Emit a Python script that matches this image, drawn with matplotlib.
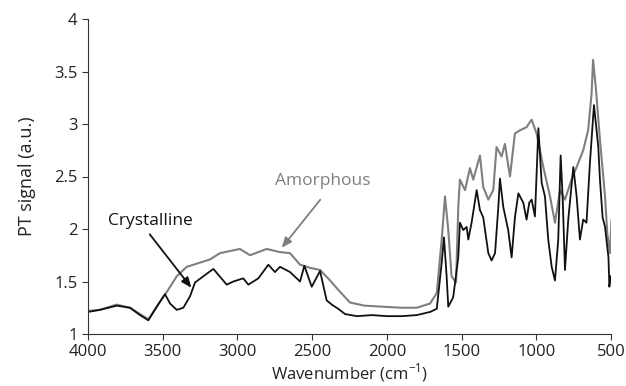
import matplotlib
matplotlib.use('Agg')
import matplotlib.pyplot as plt

plt.rcParams['font.family'] = ['Open Sans', 'DejaVu Sans']
plt.rcParams['mathtext.fontset'] = 'custom'
plt.rcParams['mathtext.rm'] = 'Open Sans'

# crystalline spectrum (black)
wn_c = [4000, 3920, 3808, 3719, 3652, 3596, 3540, 3485, 3451, 3406,
        3362, 3317, 3284, 3228, 3161, 3072, 3027, 2961, 2927, 2860,
        2793, 2749, 2715, 2648, 2581, 2552, 2503, 2447, 2403, 2369,
        2325, 2280, 2200, 2100, 2000, 1900, 1800, 1711, 1666, 1633,
        1618, 1600, 1589, 1556, 1522, 1511, 1489, 1466, 1455, 1433,
        1399, 1377, 1355, 1343, 1321, 1299, 1276, 1254, 1243, 1221,
        1188, 1165, 1143, 1120, 1087, 1065, 1047, 1031, 1009, 986,
        964, 942, 920, 897, 875, 853, 837, 823, 808, 786,
        752, 730, 708, 686, 664, 641, 614, 585, 574, 556,
        540, 517, 511, 502]
pt_c = [1.21, 1.23, 1.27, 1.25, 1.18, 1.13, 1.26, 1.38, 1.29, 1.23,
        1.25, 1.36, 1.49, 1.55, 1.62, 1.47, 1.50, 1.53, 1.47, 1.53,
        1.66, 1.59, 1.64, 1.59, 1.50, 1.65, 1.45, 1.60, 1.32, 1.28,
        1.24, 1.19, 1.17, 1.18, 1.17, 1.17, 1.18, 1.21, 1.24, 1.68,
        1.92, 1.55, 1.26, 1.35, 1.73, 2.06, 1.99, 2.02, 1.90, 2.06,
        2.37, 2.18, 2.11, 1.99, 1.77, 1.70, 1.77, 2.21, 2.48, 2.21,
        1.99, 1.73, 2.11, 2.34, 2.25, 2.09, 2.25, 2.28, 2.12, 2.96,
        2.44, 2.31, 1.90, 1.64, 1.51, 1.90, 2.70, 2.28, 1.61, 2.09,
        2.59, 2.31, 1.90, 2.09, 2.06, 2.63, 3.18, 2.78, 2.47, 2.11,
        2.02, 1.73, 1.45, 1.55]

# amorphous spectrum (grey)
wn_a = [4000, 3920, 3808, 3719, 3652, 3596, 3540, 3473, 3406, 3339,
        3250, 3184, 3117, 2983, 2916, 2804, 2715, 2648, 2581, 2514,
        2447, 2380, 2325, 2247, 2150, 2026, 1900, 1800, 1711, 1666,
        1633, 1611, 1589, 1567, 1537, 1522, 1511, 1477, 1444, 1422,
        1377, 1355, 1321, 1288, 1266, 1232, 1210, 1176, 1143, 1109,
        1065, 1042, 1031, 998, 953, 908, 875, 841, 808, 764,
        730, 686, 653, 630, 620, 600, 574, 540, 525, 507,
        496]
pt_a = [1.22, 1.23, 1.28, 1.25, 1.19, 1.14, 1.26, 1.40, 1.55, 1.64,
        1.68, 1.71, 1.77, 1.81, 1.75, 1.81, 1.78, 1.77, 1.66, 1.63,
        1.61, 1.51, 1.42, 1.30, 1.27, 1.26, 1.25, 1.25, 1.29, 1.39,
        1.90, 2.31, 1.99, 1.55, 1.49, 2.21, 2.47, 2.37, 2.58, 2.47,
        2.70, 2.40, 2.28, 2.37, 2.78, 2.69, 2.81, 2.50, 2.91, 2.94,
        2.97, 3.02, 3.04, 2.91, 2.59, 2.31, 2.06, 2.37, 2.28, 2.47,
        2.59, 2.75, 2.94, 3.29, 3.61, 3.32, 2.85, 2.31, 1.96, 1.77,
        2.09]

fig = plt.figure(figsize=(6.26, 3.86), dpi=100)
ax = fig.add_axes([88/626, 1 - 334/386, (611-88)/626, (334-19)/386])

ax.plot(wn_a, pt_a, color='#7f7f7f', lw=1.5)
ax.plot(wn_c, pt_c, color='#111111', lw=1.3)

ax.set_xlim(4000, 500)
ax.set_ylim(1, 4)
ax.set_xticks([4000, 3500, 3000, 2500, 2000, 1500, 1000, 500])
ax.set_yticks([1, 1.5, 2, 2.5, 3, 3.5, 4])
ax.set_yticklabels(['1', '1.5', '2', '2.5', '3', '3.5', '4'])
for s in ['top', 'right']:
    ax.spines[s].set_visible(False)
for s in ['left', 'bottom']:
    ax.spines[s].set_color('#333333')
ax.tick_params(direction='out', length=4, color='#333333', labelsize=12,
               labelcolor='#222222')

ax.set_xlabel('Wavenumber (cm$^{-1}$)', fontsize=12, color='#222222', labelpad=1)
ax.set_ylabel('PT signal (a.u.)', fontsize=13, color='#222222', labelpad=13)

ax.text(2427, 2.46, 'Amorphous', color='#7f7f7f', fontsize=12.5,
        ha='center', va='center')
ax.annotate('', xy=(2715, 1.80), xytext=(2434, 2.30),
            arrowprops=dict(arrowstyle='-|>,head_length=0.6,head_width=0.25',
                            color='#7f7f7f', lw=1.3))
ax.text(3585, 2.08, 'Crystalline', color='#111111', fontsize=12.5,
        ha='center', va='center')
ax.annotate('', xy=(3297, 1.42), xytext=(3598, 1.97),
            arrowprops=dict(arrowstyle='-|>,head_length=0.6,head_width=0.25',
                            color='#111111', lw=1.3))

fig.savefig('out.png', dpi=100)
